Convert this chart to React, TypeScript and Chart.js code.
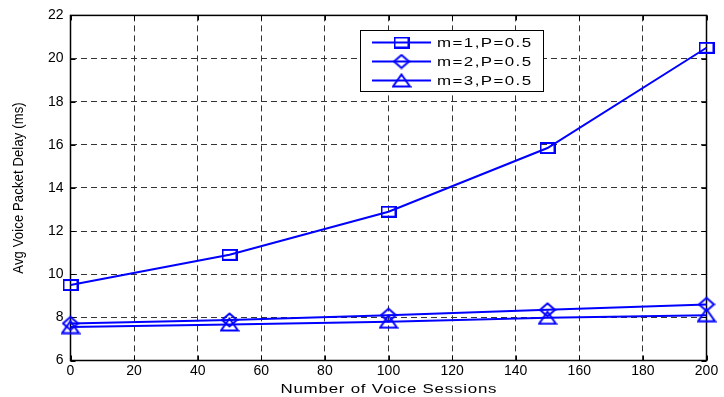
import React, { useEffect, useRef } from 'react';
import { Chart, registerables } from 'chart.js';

Chart.register(...registerables);

const sessions = [0, 50, 100, 150, 200];
const delayM1 = [9.5, 10.9, 12.9, 15.85, 20.5];
const delayM2 = [7.72, 7.88, 8.1, 8.35, 8.6];
const delayM3 = [7.55, 7.67, 7.8, 7.98, 8.1];
const seriesLabels = ['m=1,P=0.5', 'm=2,P=0.5', 'm=3,P=0.5'];
const xTitle = 'Number of Voice Sessions';
const yTitle = 'Avg Voice Packet Delay (ms)';

const BLUE = '#0000ff';
const FONT = '"Liberation Sans", Arial, sans-serif';

function makeMarker(kind: string): HTMLCanvasElement {
  const c = document.createElement('canvas');
  let w = 16, h = 12;
  if (kind === 'diamond') { w = 18; h = 16; }
  if (kind === 'triangle') { w = 20; h = 15; }
  c.width = w; c.height = h;
  const g = c.getContext('2d')!;
  g.strokeStyle = BLUE;
  g.lineWidth = 2;
  g.beginPath();
  if (kind === 'square') {
    g.rect(1, 1, 14, 10);
  } else if (kind === 'diamond') {
    g.moveTo(9, 1.5); g.lineTo(16.5, 8); g.lineTo(9, 14.5); g.lineTo(1.5, 8); g.closePath();
  } else {
    g.moveTo(10, 1.5); g.lineTo(18.5, 13.5); g.lineTo(1.5, 13.5); g.closePath();
  }
  g.stroke();
  return c;
}

function stretchedText(ctx: any, text: string, x: number, y: number, sx: number, spacing: number, align: string) {
  ctx.save();
  (ctx as any).letterSpacing = spacing + 'px';
  ctx.textAlign = 'left';
  ctx.textBaseline = 'middle';
  const w = (ctx.measureText(text).width - spacing) * sx;
  let x0 = x;
  if (align === 'center') x0 = x - w / 2;
  ctx.translate(x0, y);
  ctx.scale(sx, 1);
  ctx.fillText(text, 0, 0);
  ctx.restore();
}

export default function App() {
  const ref = useRef<HTMLCanvasElement | null>(null);

  useEffect(() => {
    document.body.style.margin = '0';
    const canvas = ref.current!;
    const markers = [makeMarker('square'), makeMarker('diamond'), makeMarker('triangle')];
    const values = [delayM1, delayM2, delayM3];

    const framePlugin = {
      id: 'frame',
      beforeDatasetsDraw(chart: any) {
        const { ctx, chartArea } = chart;
        const { left, right, top, bottom } = chartArea;
        const xs = chart.scales.x;
        const ys = chart.scales.y;
        ctx.save();
        ctx.setLineDash([]);
        ctx.strokeStyle = '#000';
        ctx.lineWidth = 1;
        ctx.beginPath();
        xs.ticks.forEach((t: any) => {
          const px = Math.round(xs.getPixelForValue(t.value)) + 0.5;
          ctx.moveTo(px, bottom); ctx.lineTo(px, bottom - 5);
          ctx.moveTo(px, top); ctx.lineTo(px, top + 5);
        });
        ys.ticks.forEach((t: any) => {
          const py = Math.round(ys.getPixelForValue(t.value)) + 0.5;
          ctx.moveTo(left, py); ctx.lineTo(left + 5, py);
          ctx.moveTo(right, py); ctx.lineTo(right - 5, py);
        });
        ctx.stroke();
        ctx.lineWidth = 1.5;
        ctx.strokeRect(left, top, right - left, bottom - top);
        ctx.restore();
      },
      afterDraw(chart: any) {
        const { ctx, chartArea } = chart;
        const { left, right, top, bottom } = chartArea;
        ctx.save();
        ctx.fillStyle = '#000';
        ctx.font = `13px ${FONT}`;
        stretchedText(ctx, xTitle, (left + right) / 2, 389, 1.3, 0.6, 'center');
        // y title
        ctx.translate(18.5, (top + bottom) / 2);
        ctx.rotate(-Math.PI / 2);
        ctx.scale(1, 1.15);
        (ctx as any).letterSpacing = '0.15px';
        ctx.textAlign = 'center';
        ctx.textBaseline = 'middle';
        ctx.fillText(yTitle, 0, 0);
        ctx.restore();

        // legend
        ctx.save();
        const bx = 360.5, by = 30.5, bw = 183, bh = 61;
        ctx.fillStyle = '#fff';
        ctx.fillRect(bx, by, bw, bh);
        ctx.strokeStyle = '#000';
        ctx.lineWidth = 1;
        ctx.strokeRect(bx, by, bw, bh);
        const rows = [42.5, 61.5, 80.5];
        chart.data.datasets.forEach((ds: any, i: number) => {
          const y = rows[i];
          ctx.strokeStyle = BLUE;
          ctx.lineWidth = 2;
          ctx.beginPath();
          ctx.moveTo(372, y); ctx.lineTo(431, y);
          ctx.stroke();
          const m = markers[i];
          ctx.drawImage(m, 401.5 - m.width / 2, y - m.height / 2);
          ctx.fillStyle = '#000';
          ctx.font = `13px ${FONT}`;
          stretchedText(ctx, ds.label, 437, y + 1, 1.3, 1.1, 'left');
        });
        ctx.restore();
      },
    };

    const chart = new Chart(canvas, {
      type: 'line',
      data: {
        datasets: seriesLabels.map((label, i) => ({
          label,
          data: sessions.map((x, j) => ({ x, y: values[i][j] })),
          borderColor: BLUE,
          backgroundColor: BLUE,
          borderWidth: 2,
          pointStyle: markers[i] as any,
          pointRadius: 6,
          fill: false,
          tension: 0,
          clip: false as any,
        })),
      },
      options: {
        responsive: false,
        animation: false,
        events: [],
        layout: { padding: { top: 14.5, right: 17.5, left: 0, bottom: 0 } },
        scales: {
          x: {
            type: 'linear',
            min: 0,
            max: 200,
            ticks: {
              stepSize: 20,
              color: '#000',
              padding: 2,
              maxRotation: 0,
              autoSkip: false,
              font: { family: FONT, size: 14 },
            },
            grid: { color: '#333', lineWidth: 1, drawTicks: false },
            border: { display: false, dash: [6, 4] },
            afterFit: (s: any) => { s.height = 36.5; },
          },
          y: {
            type: 'linear',
            min: 6,
            max: 22,
            ticks: {
              stepSize: 2,
              color: '#000',
              padding: 7,
              font: { family: FONT, size: 14 },
            },
            grid: { color: '#333', lineWidth: 1, drawTicks: false },
            border: { display: false, dash: [6, 4] },
            afterFit: (s: any) => { s.width = 70.5; },
          },
        },
        plugins: {
          legend: { display: false },
          tooltip: { enabled: false },
          title: { display: false },
        },
      },
      plugins: [framePlugin],
    });
    return () => chart.destroy();
  }, []);

  return (
    <div style={{ position: 'fixed', left: 0, top: 0, width: 724, height: 397, background: '#fff' }}>
      <canvas ref={ref} width={724} height={397} style={{ width: 724, height: 397, display: 'block' }} />
    </div>
  );
}
